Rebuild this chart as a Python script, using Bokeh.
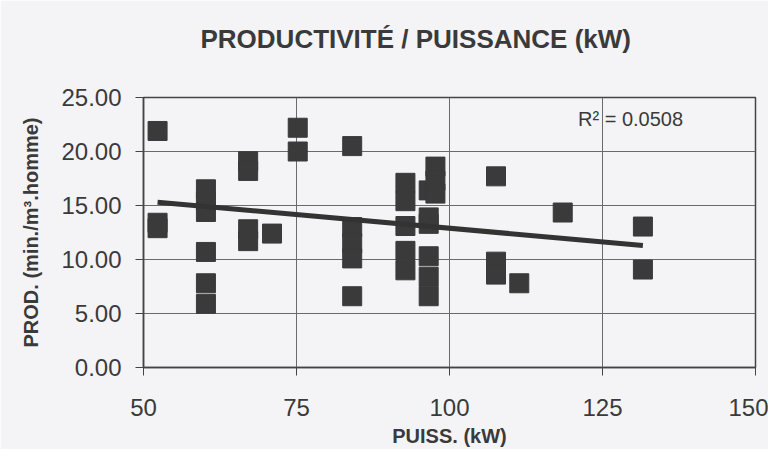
import numpy as np
from bokeh.plotting import figure
from bokeh.models import Label, Title, FixedTicker, NumeralTickFormatter, ColumnDataSource
from bokeh.embed import file_html
from bokeh.resources import INLINE

# ---- data ----
puissance_kw = [52.3, 52.3, 52.3,
                60.2, 60.2, 60.2, 60.2, 60.2, 60.2,
                67.1, 67.1, 67.1, 67.1,
                71.0,
                75.2, 75.2,
                84.1, 84.1, 84.1, 84.1, 84.1,
                92.8, 92.8, 92.8, 92.8, 92.8,
                96.6, 96.6, 96.6, 96.6, 96.6, 96.6,
                97.7, 97.7, 97.7,
                107.6, 107.6, 107.6,
                111.4,
                118.5,
                131.6, 131.6]
productivite = [21.9, 13.4, 12.9,
                16.5, 15.4, 14.4, 10.7, 7.8, 5.9,
                19.1, 18.2, 12.8, 11.7,
                12.4,
                22.2, 20.0,
                20.5, 13.0, 11.5, 10.1, 6.6,
                17.1, 15.4, 13.1, 10.8, 9.0,
                16.4, 13.9, 13.3, 10.3, 8.4, 6.6,
                18.6, 17.3, 16.1,
                17.7, 9.8, 8.6,
                7.8,
                14.35,
                13.05, 9.07]
# linear trend line as drawn in the picture (ends)
trend_x = [52.3, 131.6]
trend_y = [15.3, 11.3]
x_ticks = [50, 75, 100, 125, 150]
y_ticks = [0, 5, 10, 15, 20, 25]
r2_text = "R\u00b2 = 0.0508"
title_text = "PRODUCTIVIT\u00c9 / PUISSANCE (kW)"
x_label = "PUISS. (kW)"
y_label = "PROD. (min./m\u00b3.homme)"

FONT = "Liberation Sans"
INK = "#3a3a3a"
BG = "#f4f4f6"

p = figure(width=768, height=449, x_range=(50, 150), y_range=(0, 25),
           output_backend="svg", toolbar_location=None,
           min_border_left=143, min_border_right=13,
           min_border_top=97, min_border_bottom=82)
p.background_fill_color = BG
p.border_fill_color = BG
p.outline_line_color = "#444444"
p.outline_line_width = 1.5

# spacer between the frame and the title (nearest panel to the frame)
p.add_layout(Title(text=" ", text_font=FONT, text_font_size="24px"), "above")
t = Title(text=title_text, align="left", offset=57,
          text_font=FONT, text_font_size="26px", text_font_style="bold",
          text_color=INK)
p.add_layout(t, "above")

for ax in (p.xaxis[0], p.yaxis[0]):
    ax.major_label_text_font = FONT
    ax.major_label_text_font_size = "24px"
    ax.major_label_text_color = INK
    ax.axis_label_text_font = FONT
    ax.axis_label_text_font_size = "20px"
    ax.axis_label_text_font_style = "bold"
    ax.axis_label_text_color = INK
    ax.axis_line_color = "#444444"
    ax.axis_line_width = 1.5
    ax.major_tick_line_color = "#444444"
    ax.major_tick_in = 0
    ax.major_tick_out = 8
    ax.minor_tick_line_color = None

p.xaxis.ticker = FixedTicker(ticks=x_ticks)
p.yaxis.ticker = FixedTicker(ticks=y_ticks)
p.yaxis.formatter = NumeralTickFormatter(format="0.00")
p.xaxis.axis_label = x_label
p.yaxis.axis_label = y_label
p.xaxis.major_label_standoff = 23
p.xaxis.axis_label_standoff = 6
p.yaxis.major_label_standoff = 14
p.yaxis.axis_label_standoff = 16

p.xgrid.grid_line_color = "#6a6a6a"
p.ygrid.grid_line_color = "#6a6a6a"
p.xgrid.grid_line_width = 1
p.ygrid.grid_line_width = 1

src = ColumnDataSource(dict(x=puissance_kw, y=productivite))
p.scatter("x", "y", source=src, marker="square", size=19,
          fill_color=INK, line_color=INK)

p.line(trend_x, trend_y, line_color="#333333", line_width=5)

p.add_layout(Label(x=121.0, y=23.05, text=r2_text, text_font=FONT,
                   text_font_size="20px", text_color=INK,
                   text_baseline="middle"))

open("out.html", "w").write(file_html(p, INLINE))
